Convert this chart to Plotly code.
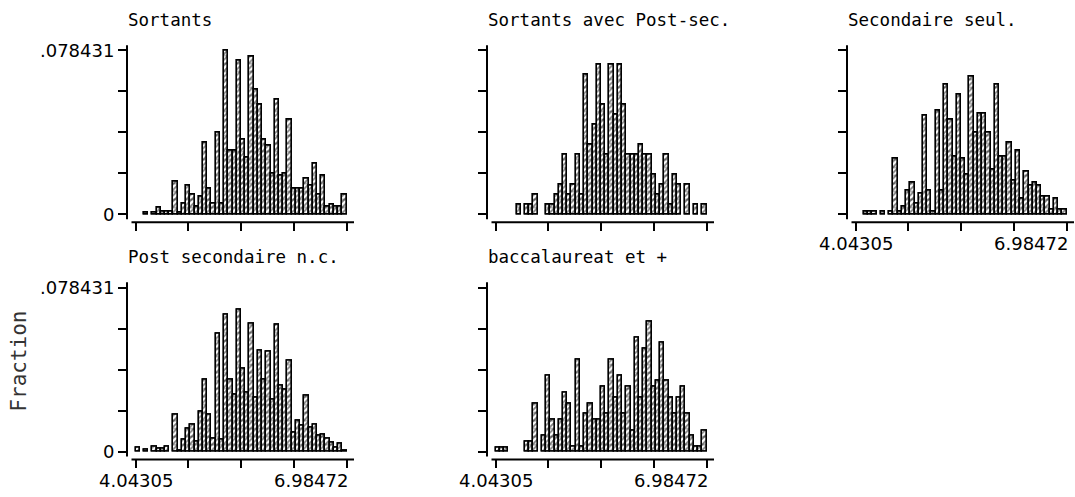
import numpy as np
import plotly.graph_objects as go

# Histogram settings shared by every panel
x_min = 4.04305
x_max = 6.98472
y_max = 0.078431
n_bins = 50

titles = ["Sortants", "Sortants avec Post-sec.", "Secondaire seul.",
          "Post secondaire n.c.", "baccalaureat et +"]

x_tick_text = ["4.04305", "6.98472"]
y_tick_text = ["0", ".078431"]

# Fraction of observations in each of the 50 bins
sortants = [0, 0, 0.001, 0, 0.001, 0.0035, 0.0013, 0.0013, 0.0013, 0.0158,
            0.001, 0.005, 0.0136, 0.0096, 0.0038, 0.0087, 0.0342, 0.0122, 0.005, 0.0393,
            0.005, 0.078431, 0.0306, 0.0306, 0.0734, 0.0357, 0.0271, 0.0757, 0.0598, 0.0527,
            0.0357, 0.033, 0.0196, 0.0551, 0.0185, 0.0196, 0.0453, 0.0125, 0.0125, 0.0125,
            0.0172, 0.0136, 0.0243, 0.0096, 0.0185, 0.0038, 0.0049, 0.0038, 0.0038, 0.0096]

# counts per bin (fractions are count / total)
post_sec_counts = [0, 0, 0, 0, 0, 1, 0, 1, 1, 2,
                   0, 0, 1, 1, 2, 3, 6, 2, 3, 6,
                   2, 14, 7, 9, 15, 11, 6, 15, 10, 15,
                   11, 6, 6, 6, 7, 6, 6, 4, 2, 3,
                   6, 1, 4, 3, 0, 3, 0, 1, 0, 1]

secondaire = [0, 0, 0.0012, 0.0012, 0.0012, 0, 0.0012, 0, 0.0012, 0.0267,
              0.0012, 0.0038, 0.0114, 0.0152, 0.005, 0.0101, 0.0472, 0.0114, 0.0014, 0.0496,
              0.0114, 0.0622, 0.0456, 0.0279, 0.0573, 0.0267, 0.0191, 0.066, 0.0393, 0.0483,
              0.0483, 0.0393, 0.0216, 0.0622, 0.0279, 0.0279, 0.0342, 0.0164, 0.0305, 0.0077,
              0.0204, 0.0136, 0.0152, 0.0139, 0.0088, 0.0088, 0.0025, 0.0077, 0.0025, 0.0025]

post_nc = [0.0019, 0, 0.0008, 0, 0.0025, 0.0013, 0.0013, 0.0024, 0, 0.0177,
           0.0005, 0.0055, 0.011, 0.0128, 0.0047, 0.0193, 0.0345, 0.0177, 0.006, 0.0563,
           0.0055, 0.0653, 0.0345, 0.0274, 0.0677, 0.0395, 0.0281, 0.0614, 0.0258, 0.0484,
           0.0345, 0.0476, 0.025, 0.0606, 0.0313, 0.0297, 0.0435, 0.0092, 0.015, 0.0123,
           0.0266, 0.0115, 0.0128, 0.0076, 0.0079, 0.006, 0.0044, 0.002, 0.004, 0.0005]

bacc = [0.0021, 0.0021, 0.0021, 0, 0, 0, 0, 0.0049, 0.0049, 0.023,
        0, 0.0076, 0.0362, 0.0152, 0.0076, 0.0152, 0.0281, 0.023, 0.0025, 0.044,
        0.0025, 0.0179, 0.023, 0.0152, 0.0152, 0.031, 0.0179, 0.044, 0.0258, 0.0362,
        0.0179, 0.031, 0.01, 0.0544, 0.0258, 0.0492, 0.0621, 0.031, 0.0337, 0.0519,
        0.0337, 0.0258, 0.0179, 0.0258, 0.031, 0.0179, 0.0076, 0.0025, 0.0025, 0.01]

total = sum(post_sec_counts)
post_sec = [c / total for c in post_sec_counts]

series = [sortants, post_sec, secondaire, post_nc, bacc]

# ---- page geometry (pixels) ----
W, H = 1075, 497
col_left = [127, 487, 847]
axis_bottom = [221, 461]
panel_cells = [(0, 0), (0, 1), (0, 2), (1, 0), (1, 1)]
plot_w = 227           # width of each plot area
first_tick_off = 8.5   # gap between y axis and first x tick
tick_span = 211        # pixels between first and last x tick
plot_h = 181           # height of each plot area
zero_off = 8           # gap between x axis and y = 0
y_span = 166           # pixels between y = 0 and y = y_max

kx = tick_span / (x_max - x_min)
ky = y_span / y_max
bw = (x_max - x_min) / n_bins
centers = x_min + (np.arange(n_bins) + 0.5) * bw

x_ticks = np.linspace(x_min, x_max, 5)
y_ticks = np.linspace(0, y_max, 5)

fig = go.Figure()
layout = {}
shapes = []
annotations = []

def px_x(p):
    return p / W

def px_y(p):
    return 1 - p / H

for i, (vals, title, (r, c)) in enumerate(zip(series, titles, panel_cells)):
    n = i + 1
    xa = "x" if n == 1 else f"x{n}"
    ya = "y" if n == 1 else f"y{n}"
    left = col_left[c]
    bottom = axis_bottom[r]
    top = bottom - plot_h

    yv = [v if v > 0 else None for v in vals]
    # hatched bars
    fig.add_trace(go.Bar(
        x=centers, y=yv, width=bw, xaxis=xa, yaxis=ya,
        marker=dict(color="white",
                    line=dict(color="black", width=1.4),
                    pattern=dict(shape="/", fgcolor="black", bgcolor="white",
                                 size=4, solidity=0.45)),
        showlegend=False, hoverinfo="skip"))
    # horizontal rungs of the fill pattern
    fig.add_trace(go.Bar(
        x=centers, y=yv, width=bw, xaxis=xa, yaxis=ya,
        marker=dict(color="rgba(0,0,0,0)",
                    line=dict(color="black", width=1.4),
                    pattern=dict(shape="-", fgcolor="black", bgcolor="rgba(0,0,0,0)",
                                 size=8, solidity=0.15)),
        showlegend=False, hoverinfo="skip"))

    x_range = [x_min - first_tick_off / kx, x_min + (plot_w - first_tick_off) / kx]
    y_range = [-zero_off / ky, (plot_h - zero_off) / ky]

    layout[("xaxis" if n == 1 else f"xaxis{n}")] = dict(
        domain=[px_x(left), px_x(left + plot_w)], range=x_range, anchor=ya,
        showgrid=False, zeroline=False, showline=False,
        tickvals=list(x_ticks), ticktext=[""] * 5,
        ticks="outside", ticklen=8, tickwidth=2, tickcolor="black", fixedrange=True)
    y_text = [y_tick_text[0], "", "", "", y_tick_text[1]] if c == 0 else [""] * 5
    layout[("yaxis" if n == 1 else f"yaxis{n}")] = dict(
        domain=[px_y(bottom), px_y(top)], range=y_range, anchor=xa,
        showgrid=False, zeroline=False, showline=False,
        tickvals=list(y_ticks), ticktext=y_text,
        ticks="outside", ticklen=8, tickwidth=2, tickcolor="black",
        tickfont=dict(family="DejaVu Sans", size=18, color="black"), fixedrange=True)

    # axis lines, drawn separately so they do not meet at the corner
    y_line_top = bottom - zero_off - y_span - 5.3
    y_line_bot = bottom - 3
    shapes.append(dict(type="line", xref="paper", yref="paper",
                       x0=px_x(left), x1=px_x(left), y0=px_y(y_line_bot), y1=px_y(y_line_top),
                       line=dict(color="black", width=2)))
    shapes.append(dict(type="line", xref="paper", yref="paper",
                       x0=px_x(left + first_tick_off - 4), x1=px_x(left + plot_w),
                       y0=px_y(bottom), y1=px_y(bottom),
                       line=dict(color="black", width=2)))

    annotations.append(dict(text=title, xref="paper", yref="paper",
                            x=px_x(left - 1), y=px_y(bottom - 204.5), xanchor="left", yanchor="middle",
                            showarrow=False,
                            font=dict(family="DejaVu Sans Mono", size=17.5, color="black")))

    # x tick labels on the lowest panel of each column
    if (r == 1) or (c == 2):
        annotations.append(dict(text=x_tick_text[0], xref=xa, yref="paper",
                                x=x_ticks[0], y=px_y(bottom + 9), xanchor="center", yanchor="top",
                                showarrow=False,
                                font=dict(family="DejaVu Sans", size=18, color="black")))
        annotations.append(dict(text=x_tick_text[1], xref=xa, yref="paper",
                                x=x_ticks[-1], y=px_y(bottom + 9), xanchor="right", yanchor="top",
                                xshift=3, showarrow=False,
                                font=dict(family="DejaVu Sans", size=18, color="black")))

annotations.append(dict(text="Fraction", xref="paper", yref="paper",
                        x=px_x(19), y=px_y(362), xanchor="center", yanchor="middle",
                        textangle=-90, showarrow=False,
                        font=dict(family="DejaVu Sans Mono", size=21, color="#333333")))

fig.update_layout(**layout)
fig.update_layout(
    width=W, height=H, margin=dict(l=0, r=0, t=0, b=0),
    paper_bgcolor="white", plot_bgcolor="white",
    shapes=shapes, annotations=annotations, bargap=0, barmode="overlay")

fig.write_html("out.html", config={"displayModeBar": False})
